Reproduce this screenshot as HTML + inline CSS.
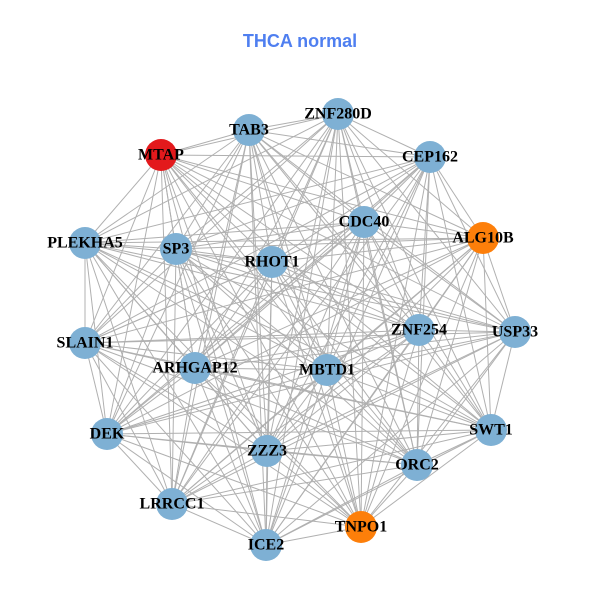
<!DOCTYPE html>
<html><head><style>
html,body{margin:0;padding:0;background:#fff;}
svg{display:block;}
text.l{font-family:"Liberation Serif",serif;font-weight:bold;font-size:16px;fill:#000;text-anchor:middle;dominant-baseline:central;}
</style></head><body>
<svg id="s" width="600" height="600" xmlns="http://www.w3.org/2000/svg">
<text x="300" y="41" text-anchor="middle" dominant-baseline="central" font-family="Liberation Sans, sans-serif" font-weight="bold" font-size="18" fill="#4f7ff0">THCA normal</text>
<g id="e" stroke="#b0b0b0" stroke-width="1"></g>
<g id="n"></g>
</svg>
<script>
var N=[["ZNF280D",338,114,"b"],["TAB3",249,130,"b"],["MTAP",161,155,"r"],["CEP162",430,157,"b"],["CDC40",364,222,"b"],["ALG10B",483,238,"o"],["PLEKHA5",85,243,"b"],["SP3",176,249,"b"],["RHOT1",272,262,"b"],["ZNF254",419,330,"b"],["USP33",515,332,"b"],["SLAIN1",85,343,"b"],["ARHGAP12",195,368,"b"],["MBTD1",327,370,"b"],["DEK",107,434,"b"],["SWT1",491,430,"b"],["ZZZ3",267,451,"b"],["ORC2",417,465,"b"],["LRRCC1",172,504,"b"],["TNPO1",361,527,"o"],["ICE2",266,545,"b"]];
var C={b:"#7eb0d4",r:"#e3191c",o:"#fd7f0a"};
var ns="http://www.w3.org/2000/svg",E=document.getElementById("e"),G=document.getElementById("n");
for(var i=0;i<N.length;i++)for(var j=i+1;j<N.length;j++){var l=document.createElementNS(ns,"line");l.setAttribute("x1",N[i][1]);l.setAttribute("y1",N[i][2]);l.setAttribute("x2",N[j][1]);l.setAttribute("y2",N[j][2]);E.appendChild(l);}
N.forEach(function(d){var c=document.createElementNS(ns,"circle");c.setAttribute("cx",d[1]);c.setAttribute("cy",d[2]);c.setAttribute("r",16);c.setAttribute("fill",C[d[3]]);G.appendChild(c);});
N.forEach(function(d){var t=document.createElementNS(ns,"text");t.setAttribute("class","l");t.setAttribute("x",d[1]);t.setAttribute("y",d[2]);t.textContent=d[0];G.appendChild(t);});
</script>
</body></html>
